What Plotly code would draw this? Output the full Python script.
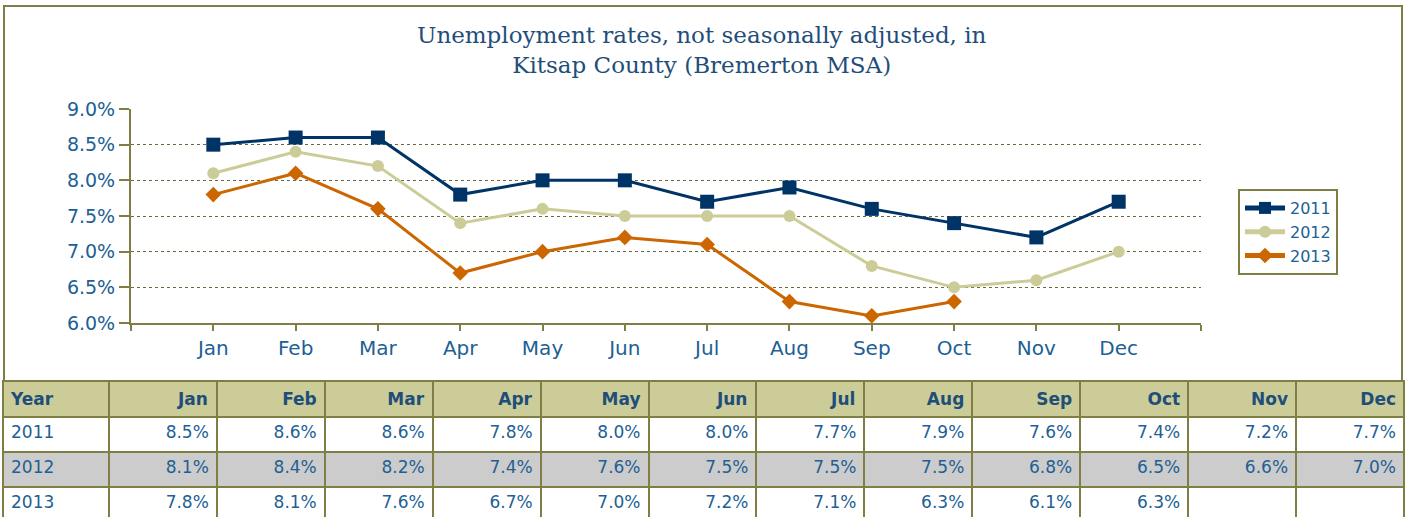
import plotly.graph_objects as go

months = ["Jan", "Feb", "Mar", "Apr", "May", "Jun", "Jul", "Aug", "Sep", "Oct", "Nov", "Dec"]
years = ["2011", "2012", "2013"]
rate_2011 = [8.5, 8.6, 8.6, 7.8, 8.0, 8.0, 7.7, 7.9, 7.6, 7.4, 7.2, 7.7]
rate_2012 = [8.1, 8.4, 8.2, 7.4, 7.6, 7.5, 7.5, 7.5, 6.8, 6.5, 6.6, 7.0]
rate_2013 = [7.8, 8.1, 7.6, 6.7, 7.0, 7.2, 7.1, 6.3, 6.1, 6.3]
y_ticks = [6.0, 6.5, 7.0, 7.5, 8.0, 8.5, 9.0]
title_text = "Unemployment rates, not seasonally adjusted, in<br>Kitsap County (Bremerton MSA)"

W, H = 1406, 517
def px(x):
    return min(1.0, max(0.0, x / W))
def py(y):
    return min(1.0, max(0.0, 1 - y / H))

olive = "#7f7f45"
text_blue = "#215f94"
colors = {"2011": "#003366", "2012": "#cccc99", "2013": "#cc6600"}
symbols = {"2011": "square", "2012": "circle", "2013": "diamond"}
sizes = {"2011": 14, "2012": 12, "2013": 12}
series = {"2011": rate_2011, "2012": rate_2012, "2013": rate_2013}

fig = go.Figure()
for yr in years:
    vals = series[yr]
    fig.add_trace(go.Scatter(
        x=list(range(len(vals))), y=vals, name=yr, mode="lines+markers",
        line=dict(color=colors[yr], width=3),
        marker=dict(symbol=symbols[yr], size=sizes[yr], color=colors[yr]),
        xaxis="x", yaxis="y",
    ))

# table
def fmt(v):
    return f"{v:.1f}%"
rows = [rate_2011, rate_2012, rate_2013]
cols = [years]
for i in range(len(months)):
    cols.append([fmt(r[i]) if i < len(r) else "" for r in rows])
row_fill = ["#ffffff", "#cccccc", "#ffffff"]
col_widths = [106] + [108] * 12
fig.add_trace(go.Table(
    domain=dict(x=[px(3), px(1404)], y=[0.0, py(381)]),
    columnwidth=col_widths,
    header=dict(
        values=["<b>Year</b>"] + [f"<b>{m}</b>" for m in months],
        align=["left"] + ["right"] * 12,
        fill_color="#cccc99",
        line=dict(color=olive, width=2),
        font=dict(family="DejaVu Sans", size=17, color="#1f4e79"),
        height=29,
    ),
    cells=dict(
        values=cols,
        align=["left"] + ["right"] * 12,
        fill_color=[row_fill] * 13,
        line=dict(color=olive, width=2),
        font=dict(family="DejaVu Sans", size=17, color=text_blue),
        height=35,
    ),
))

fig.update_layout(
    width=W, height=H,
    margin=dict(l=0, r=0, t=0, b=0, pad=0),
    paper_bgcolor="white", plot_bgcolor="white",
    showlegend=True,
    legend=dict(
        x=px(1238), y=py(189), xanchor="left", yanchor="top",
        bordercolor=olive, borderwidth=2,
        font=dict(family="DejaVu Sans", size=16, color=text_blue),
        itemwidth=40, tracegroupgap=0, itemsizing="constant",
        entrywidth=85, entrywidthmode="pixels",
    ),
    xaxis=dict(
        domain=[px(131), px(1201)], range=[-1, 12],
        tickmode="array", tickvals=list(range(-1, 13)),
        ticktext=[""] + months + [""],
        ticks="outside", ticklen=6, tickcolor=olive, tickwidth=2,
        showline=True, linecolor=olive, linewidth=2,
        showgrid=False, zeroline=False, automargin=False,
        tickfont=dict(family="DejaVu Sans", size=20, color=text_blue),
        fixedrange=True,
    ),
    yaxis=dict(
        domain=[py(323), py(109)], range=[6.0, 9.0],
        tickmode="array", tickvals=y_ticks,
        ticktext=[f"{v:.1f}%" for v in y_ticks],
        ticks="outside", ticklen=10, tickcolor=olive, tickwidth=2,
        showline=True, linecolor=olive, linewidth=2,
        showgrid=True, gridcolor="#6b6b40", gridwidth=1, griddash="dot",
        zeroline=False, automargin=False,
        tickfont=dict(family="DejaVu Sans", size=19, color=text_blue),
        fixedrange=True,
    ),
    annotations=[dict(
        text=title_text, xref="paper", yref="paper",
        x=px(702), y=py(50), xanchor="center", yanchor="middle",
        showarrow=False, align="center",
        font=dict(family="DejaVu Serif", size=23, color="#1f4e79"),
    )],
    shapes=[dict(
        type="rect", xref="paper", yref="paper",
        x0=px(4), x1=px(1402), y0=py(381), y1=py(6),
        line=dict(color=olive, width=2), layer="below",
    )],
)

fig.write_html(
    "out.html",
    config={"displayModeBar": False},
    post_script="document.body.style.margin='0';document.body.style.overflow='hidden';",
)
